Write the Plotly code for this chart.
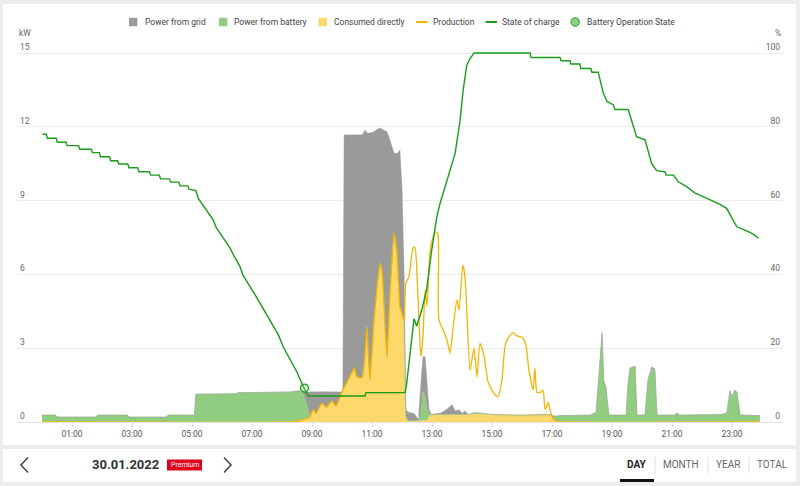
import plotly.graph_objects as go

W, H = 800, 486
ML, MR, MT, MB = 17, 17, 40, 64

# ---------------- data ----------------
stack_hours = [0.00, 0.45, 0.50, 1.80, 1.85, 2.85, 2.90, 4.15, 4.20, 5.08, 5.13, 6.48, 6.53, 8.27,
               8.50, 8.67, 8.77, 8.93, 9.03, 9.13, 9.33, 9.47, 9.67, 9.80, 9.93, 10.00, 10.03, 10.07,
               10.20, 10.33, 10.40, 10.50, 10.67, 10.77, 10.83, 10.93, 11.07, 11.17, 11.27, 11.33,
               11.43, 11.50, 11.60, 11.73, 11.83, 11.93, 12.00, 12.07, 12.13, 12.20, 12.40, 12.55,
               12.63, 12.70, 12.77, 12.83, 12.90, 12.97, 13.30, 13.50, 13.60, 13.67, 13.77, 13.90,
               14.00, 14.10, 14.20, 14.40, 14.70, 15.00, 16.00, 16.90, 17.03, 17.15, 17.30, 18.27,
               18.47, 18.60, 18.67, 18.73, 18.80, 18.83, 18.90, 19.47, 19.53, 19.60, 19.77, 19.83,
               20.10, 20.20, 20.33, 20.43, 20.50, 21.10, 21.17, 21.25, 22.67, 22.83, 22.93, 23.00,
               23.10, 23.17, 23.27, 23.93]
direct_kw = [0, 0, 0, 0, 0, 0, 0, 0, 0, 0, 0, 0, 0, 0,
             0.03, 0.08, 0.12, 0.20, 0.50, 0.35, 0.77, 0.60, 0.85, 0.65, 1.00, 1.22, 1.30, 1.40,
             1.70, 2.00, 2.20, 1.84, 1.80, 2.80, 3.87, 1.70, 4.20, 5.50, 6.45, 6.20,
             4.00, 2.65, 5.20, 7.68, 6.90, 4.70, 4.40, 4.15, 0.20, 0.05, 0.05, 0.05,
             0.05, 0.05, 0.05, 0.05, 0.20, 0.30, 0.32, 0.32, 0.30, 0.30, 0.30, 0.30,
             0.30, 0.30, 0.30, 0.30, 0.30, 0.30, 0.28, 0.30, 0.15, 0.02, 0, 0,
             0, 0, 0, 0, 0, 0, 0, 0, 0, 0, 0, 0,
             0, 0, 0, 0, 0, 0, 0, 0, 0, 0, 0, 0,
             0, 0, 0, 0]
battery_kw = [0.28, 0.28, 0.20, 0.20, 0.28, 0.28, 0.20, 0.20, 0.28, 0.28, 1.13, 1.15, 1.19, 1.22,
              1.23, 1.18, 0.80, 0, 0, 0, 0, 0, 0, 0, 0, 0, 0, 0,
              0, 0, 0, 0, 0, 0, 0, 0, 0, 0, 0, 0,
              0, 0, 0, 0, 0, 0, 0, 0, 0, 0, 0, 0,
              0.30, 1.20, 1.00, 0.50, 0.10, 0, 0, 0, 0, 0, 0, 0,
              0, 0, 0, 0.08, 0.05, 0, 0, 0, 0.10, 0.22, 0.26, 0.28,
              0.40, 2.50, 3.55, 1.55, 1.40, 1.00, 0.28, 0.28, 1.50, 2.20, 2.27, 0.28,
              0.28, 1.70, 2.15, 2.10, 0.28, 0.28, 0.37, 0.28, 0.30, 0.38, 1.27, 1.03,
              1.30, 1.20, 0.28, 0.26]
grid_kw = [0, 0, 0, 0, 0, 0, 0, 0, 0, 0, 0, 0, 0, 0,
           0, 0, 0.30, 1.03, 0.73, 0.88, 0.46, 0.63, 0.38, 0.58, 0.20, 0.0, 0.05, 10.27,
           9.97, 9.67, 9.47, 9.83, 9.87, 9.07, 7.88, 10.05, 7.60, 6.40, 5.50, 5.70,
           7.85, 9.15, 6.25, 3.27, 4.00, 6.35, 5.10, 1.85, 0.30, 0.35, 0.30, 0.05,
           1.20, 1.40, 1.60, 1.00, 0.20, 0, 0.05, 0.20, 0.35, 0.40, 0.15, 0.20,
           0.05, 0.15, 0, 0, 0, 0, 0, 0, 0, 0, 0, 0,
           0, 0, 0.10, 0.10, 0.05, 0, 0, 0, 0, 0, 0, 0,
           0, 0.05, 0.10, 0.05, 0, 0, 0, 0, 0, 0, 0, 0,
           0, 0, 0, 0]

prod_hours = [0.00, 8.27, 8.50, 8.67, 8.77, 8.93, 9.03, 9.13, 9.33, 9.47, 9.67, 9.80, 9.93, 10.00,
              10.03, 10.07, 10.20, 10.33, 10.40, 10.50, 10.67, 10.77, 10.83, 10.93, 11.07, 11.17,
              11.27, 11.33, 11.43, 11.50, 11.60, 11.73, 11.83, 11.93, 12.00, 12.07, 12.13, 12.23,
              12.37, 12.43, 12.50, 12.57, 12.63, 12.70, 12.77, 12.83, 12.93, 13.03, 13.13, 13.20,
              13.23, 13.37, 13.50, 13.60, 13.70, 13.83, 13.90, 14.03, 14.10, 14.17, 14.27, 14.40,
              14.50, 14.60, 14.73, 14.87, 15.03, 15.20, 15.33, 15.43, 15.53, 15.70, 15.83, 16.00,
              16.13, 16.23, 16.37, 16.43, 16.50, 16.60, 16.70, 16.77, 16.87, 16.93, 17.03, 17.17,
              17.30, 23.93]
prod_kw = [0, 0, 0.03, 0.08, 0.12, 0.20, 0.50, 0.35, 0.77, 0.60, 0.85, 0.65, 1.00, 1.22,
           1.30, 1.40, 1.70, 2.00, 2.20, 1.84, 1.80, 2.80, 3.87, 1.70, 4.20, 5.50,
           6.45, 6.20, 4.00, 2.65, 5.20, 7.68, 6.90, 4.70, 4.40, 4.15, 5.65, 5.90,
           7.07, 7.10, 6.00, 4.00, 2.65, 3.50, 5.37, 4.70, 6.87, 7.50, 7.73, 7.60,
           4.15, 3.74, 3.33, 2.80, 3.80, 4.96, 4.55, 6.38, 5.90, 4.27, 2.10, 3.00,
           1.83, 3.20, 2.72, 1.63, 1.22, 1.02, 1.70, 3.05, 3.40, 3.63, 3.50, 3.45,
           3.13, 2.10, 1.30, 2.20, 1.20, 1.20, 1.30, 0.50, 0.80, 0.50, 0.15, 0.02,
           0, 0]

soc_hours = [0.02, 0.14, 0.18, 0.47, 0.51, 0.80, 0.84, 1.22, 1.26, 1.64, 1.68, 1.91, 1.95,
             2.25, 2.29, 2.52, 2.56, 2.86, 2.90, 3.19, 3.23, 3.58, 3.62, 3.91, 3.95, 4.25, 4.29,
             4.56, 4.60, 4.86, 4.90, 5.13, 5.21, 5.71, 5.80, 6.27, 6.40, 6.60, 6.70, 6.99, 7.10,
             7.43, 7.60, 7.88, 8.04, 8.38, 8.50, 8.71, 8.88, 10.77, 10.80, 12.10, 12.15, 12.27,
             12.40, 12.49, 12.66, 12.82, 12.99, 13.16, 13.27, 13.77, 13.93, 14.04, 14.16, 14.27,
             14.40, 16.27, 16.30, 17.27, 17.30, 17.60, 17.63, 17.93, 17.96, 18.30, 18.33, 18.54,
             18.71, 18.84, 19.04, 19.10, 19.54, 19.82, 20.10, 20.32, 20.49, 20.77, 20.80, 21.05,
             21.21, 21.49, 21.77, 22.04, 22.32, 22.60, 22.82, 23.04, 23.16, 23.49, 23.71, 23.88]
soc_pct = [78.0, 78.0, 76.9, 76.9, 75.8, 75.8, 74.9, 74.9, 73.9, 73.9, 73.0, 73.0, 71.9,
           71.9, 70.8, 70.8, 69.9, 69.9, 68.9, 68.9, 67.8, 67.8, 66.9, 66.9, 65.9, 65.9, 65.0,
           65.0, 64.0, 64.0, 63.1, 62.7, 60.6, 54.7, 52.8, 47.1, 45.0, 42.1, 39.8, 36.2, 34.5,
           29.9, 27.6, 23.6, 20.4, 15.0, 13.5, 9.6, 7.05, 7.05, 7.95, 7.95, 10.0, 18.6,
           28.0, 26.0, 30.4, 35.8, 46.6, 55.6, 59.3, 72.8, 81.4, 90.0, 96.7, 98.5,
           100.0, 100.0, 98.8, 98.8, 97.9, 97.9, 97.0, 97.0, 95.8, 95.8, 94.8, 94.8,
           89.1, 86.8, 86.0, 84.7, 84.7, 77.3, 76.5, 70.1, 68.1, 67.8, 66.9, 66.9,
           65.1, 63.8, 62.0, 61.1, 60.0, 59.0, 57.9, 54.7, 52.9, 51.8, 50.9, 49.8]

bos_hours = [8.75]
bos_pct = [9.2]

x_tick_hours = [1, 3, 5, 7, 9, 11, 13, 15, 17, 19, 21, 23]
x_tick_labels = ["01:00", "03:00", "05:00", "07:00", "09:00", "11:00",
                 "13:00", "15:00", "17:00", "19:00", "21:00", "23:00"]
kw_ticks = [0, 3, 6, 9, 12, 15]
pct_ticks = [0, 20, 40, 60, 80, 100]

series_names = ["Power from grid", "Power from battery", "Consumed directly",
                "Production", "State of charge", "Battery Operation State"]
date_label = "30.01.2022"
badge_label = "Premium"
period_tabs = ["DAY", "MONTH", "YEAR", "TOTAL"]

# ---------------- styles ----------------
C_GRID = "#9a9a9a"
C_BATT = "#90cd80"
C_DIRECT = "#fcd96a"
C_PROD = "#f5b400"
C_SOC = "#1a9c1a"
FONT = "Roboto"

# plot area: top edge 40px, bottom 422px, 15 kW gridline at 53px
KW_TOP = 15 * (H - MT - MB) / (422 - 53)
PCT_TOP = KW_TOP * 100 / 15


def px(x):
    return (x - ML) / (W - ML - MR)


def py(y):
    return (H - MB - y) / (H - MT - MB)


fig = go.Figure()

fig.add_trace(go.Scatter(x=stack_hours, y=direct_kw, name=series_names[2], stackgroup="s",
                         stackgaps="interpolate", mode="lines",
                         line=dict(width=0.5, color=C_DIRECT, shape="spline", smoothing=0.6),
                         fillcolor=C_DIRECT))
fig.add_trace(go.Scatter(x=stack_hours, y=battery_kw, name=series_names[1], stackgroup="s",
                         mode="lines", line=dict(width=0.5, color=C_BATT), fillcolor=C_BATT))
fig.add_trace(go.Scatter(x=stack_hours, y=grid_kw, name=series_names[0], stackgroup="s",
                         mode="lines", line=dict(width=0.5, color=C_GRID), fillcolor=C_GRID))
fig.add_trace(go.Scatter(x=prod_hours, y=prod_kw, name=series_names[3], mode="lines",
                         line=dict(width=1.3, color=C_PROD, shape="spline", smoothing=0.6)))
fig.add_trace(go.Scatter(x=soc_hours, y=soc_pct, name=series_names[4], mode="lines",
                         line=dict(width=1.4, color=C_SOC), yaxis="y2"))
fig.add_trace(go.Scatter(x=bos_hours, y=bos_pct, name=series_names[5], mode="markers",
                         marker=dict(size=8, color="rgba(144,205,128,0.35)",
                                     line=dict(width=1.2, color=C_SOC)), yaxis="y2"))

shapes = []
annotations = []

# cards
shapes.append(dict(type="rect", xref="paper", yref="paper", x0=px(3), x1=px(796), y0=py(445), y1=py(4),
                   fillcolor="white", line=dict(width=0), layer="below"))
shapes.append(dict(type="rect", xref="paper", yref="paper", x0=px(3), x1=px(796), y0=py(482), y1=py(449),
                   fillcolor="white", line=dict(width=0), layer="below"))

# custom legend
leg_y = 22
legend_items = [
    ("square", C_GRID, 129, 143),
    ("square", C_BATT, 219, 231.5),
    ("square", C_DIRECT, 318.5, 332),
    ("line", C_PROD, 416, 430.5),
    ("line", C_SOC, 485.5, 500),
    ("circle", C_SOC, 571, 585),
]
for (kind, col, sx, tx), name in zip(legend_items, series_names):
    if kind == "square":
        shapes.append(dict(type="rect", xref="paper", yref="paper", x0=px(sx), x1=px(sx + 8.3),
                           y0=py(leg_y + 4.2), y1=py(leg_y - 4.2), fillcolor=col, line=dict(width=0)))
    elif kind == "line":
        shapes.append(dict(type="line", xref="paper", yref="paper", x0=px(sx), x1=px(sx + 11.5),
                           y0=py(leg_y), y1=py(leg_y), line=dict(color=col, width=2)))
    else:
        shapes.append(dict(type="circle", xref="paper", yref="paper", x0=px(sx), x1=px(sx + 8.3),
                           y0=py(leg_y + 4.2), y1=py(leg_y - 4.2), fillcolor="#8fd28a",
                           line=dict(color=col, width=1)))
    annotations.append(dict(xref="paper", yref="paper", x=px(tx), y=py(leg_y), text=name,
                            showarrow=False, xanchor="left", yanchor="middle",
                            font=dict(family=FONT, size=8.5, color="#444")))

# axis unit labels
annotations.append(dict(xref="paper", yref="paper", x=px(17), y=py(33), text="kW", showarrow=False,
                        xanchor="left", yanchor="middle", font=dict(family=FONT, size=8.5, color="#666")))
annotations.append(dict(xref="paper", yref="paper", x=px(783), y=py(33), text="%", showarrow=False,
                        xanchor="right", yanchor="middle", font=dict(family=FONT, size=8.5, color="#666")))

# bottom navigation
nav_y = 465
for path in [f"M {px(28)},{py(457.5)} L {px(21)},{py(465)} L {px(28)},{py(472.5)}",
             f"M {px(224)},{py(457.5)} L {px(231)},{py(465)} L {px(224)},{py(472.5)}"]:
    shapes.append(dict(type="path", xref="paper", yref="paper", path=path,
                       line=dict(color="#444", width=1.5)))
annotations.append(dict(xref="paper", yref="paper", x=px(126), y=py(nav_y), text=f"<b>{date_label}</b>",
                        showarrow=False, xanchor="center", yanchor="middle",
                        font=dict(family=FONT, size=13, color="#333")))
shapes.append(dict(type="rect", xref="paper", yref="paper", x0=px(167), x1=px(202), y0=py(470.5),
                   y1=py(459.5), fillcolor="#e0001b", line=dict(width=0)))
annotations.append(dict(xref="paper", yref="paper", x=px(184.5), y=py(465), text=badge_label,
                        showarrow=False, xanchor="center", yanchor="middle",
                        font=dict(family=FONT, size=7, color="white")))

tab_centers = [636, 681, 728, 772.5]
for i, (lab, cx) in enumerate(zip(period_tabs, tab_centers)):
    txt = f"<b>{lab}</b>" if i == 0 else lab
    annotations.append(dict(xref="paper", yref="paper", x=px(cx), y=py(nav_y), text=txt,
                            showarrow=False, xanchor="center", yanchor="middle",
                            font=dict(family=FONT, size=10, color="#222" if i == 0 else "#666")))
for sx in [655, 708, 749]:
    shapes.append(dict(type="line", xref="paper", yref="paper", x0=px(sx), x1=px(sx),
                       y0=py(473), y1=py(457), line=dict(color="#dddddd", width=1)))
shapes.append(dict(type="rect", xref="paper", yref="paper", x0=px(620), x1=px(654), y0=py(482),
                   y1=py(479), fillcolor="#111", line=dict(width=0)))

fig.update_layout(
    width=W, height=H,
    margin=dict(l=ML, r=MR, t=MT, b=MB, pad=0),
    paper_bgcolor="#ebeced",
    plot_bgcolor="rgba(0,0,0,0)",
    showlegend=False,
    hovermode=False,
    font=dict(family=FONT, size=8.5, color="#666"),
    xaxis=dict(range=[-25 / 30, 24 + 21 / 30], tickvals=x_tick_hours, ticktext=x_tick_labels,
               showgrid=False, zeroline=False, showline=True, linecolor="#e4e4e4",
               ticks="outside", ticklen=4, tickcolor="#dcdcdc",
               tickfont=dict(family=FONT, size=8.5, color="#555")),
    yaxis=dict(range=[0, KW_TOP], tickvals=kw_ticks, showgrid=True, gridcolor="#ececec",
               zeroline=False, ticklabelposition="inside top", ticks="",
               tickfont=dict(family=FONT, size=8.5, color="#666")),
    yaxis2=dict(range=[0, PCT_TOP], tickvals=pct_ticks, overlaying="y", side="right", showgrid=False,
                zeroline=False, ticklabelposition="inside top", ticks="",
                tickfont=dict(family=FONT, size=8.5, color="#666")),
    shapes=shapes,
    annotations=annotations,
)

fig.write_html("out.html", config={"displayModeBar": False},
               post_script="document.body.style.margin='0px';")
